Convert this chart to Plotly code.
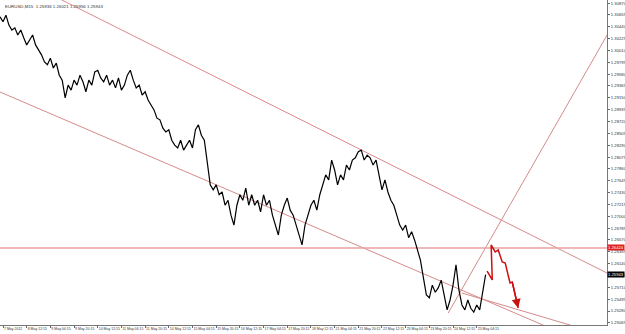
import plotly.graph_objects as go

# ---- data (EURUSD, M15, sampled every 8 bars) ----
start_bar = -8
bar_step = 8
close = [
    1.3062,1.3053,1.3065,1.3047,1.3038,1.3042,1.3029,1.3038,1.3024,1.3011,
    1.3020,1.3029,1.3011,1.3002,1.2993,1.2980,1.2975,1.2987,1.2969,1.2978,
    1.2956,1.2947,1.2915,1.2938,1.2929,1.2947,1.2938,1.2956,1.2944,1.2926,
    1.2947,1.2938,1.2962,1.2965,1.2951,1.2944,1.2956,1.2938,1.2947,1.2933,
    1.2951,1.2929,1.2938,1.2956,1.2965,1.2947,1.2933,1.2938,1.2920,1.2926,
    1.2911,1.2902,1.2893,1.2878,1.2875,1.2860,1.2853,1.2857,1.2838,1.2829,
    1.2824,1.2838,1.2820,1.2829,1.2838,1.2824,1.2857,1.2866,1.2847,1.2838,
    1.2802,1.2757,1.2748,1.2757,1.2739,1.2744,1.2720,1.2729,1.2702,1.2684,
    1.2720,1.2739,1.2729,1.2751,1.2720,1.2739,1.2720,1.2729,1.2708,1.2739,
    1.2720,1.2729,1.2702,1.2684,1.2666,1.2702,1.2720,1.2733,1.2711,1.2702,
    1.2684,1.2666,1.2648,1.2684,1.2702,1.2720,1.2729,1.2711,1.2739,1.2757,
    1.2775,1.2766,1.2802,1.2784,1.2757,1.2775,1.2766,1.2793,1.2784,1.2802,
    1.2806,1.2817,1.2820,1.2802,1.2811,1.2806,1.2793,1.2802,1.2775,1.2748,
    1.2766,1.2744,1.2729,1.2720,1.2702,1.2684,1.2675,1.2684,1.2661,1.2672,
    1.2657,1.2639,1.2620,1.2588,1.2557,1.2552,1.2575,1.2562,1.2570,1.2584,
    1.2557,1.2530,1.2548,1.2575,1.2612,1.2566,1.2539,1.2530,1.2548,1.2533,
    1.2526,1.2539,1.2530,1.2566,1.2594,
]

x_tick_bars = [0, 64, 128, 192, 256, 320, 384, 448, 512, 576, 640, 704,
               768, 832, 896, 960, 1024, 1088, 1152, 1216, 1280]
x_tick_labels = ["7 May 2012", "8 May 12:15", "9 May 04:15", "9 May 20:15",
                 "10 May 12:15", "11 May 04:15", "11 May 20:15", "14 May 12:15",
                 "15 May 04:15", "15 May 20:15", "16 May 12:15", "17 May 04:15",
                 "17 May 20:15", "18 May 12:15", "21 May 04:15", "21 May 20:15",
                 "22 May 12:15", "23 May 04:15", "23 May 20:15", "24 May 12:15",
                 "25 May 04:15"]

y_tick_vals = [round(1.30870 - 0.00215 * k, 5) for k in range(28)]
y_tick_labels = [f"{v:.5f}" for v in y_tick_vals]

# trend lines (bar, price) end points
upper_channel_bars = [0, 1632]
upper_channel_px = [1.3146, 1.2597]
lower_channel_bars = [-8, 1465]
lower_channel_px = [1.29255, 1.25008]
lower_short_bars = [1240, 1640]
lower_short_px = [1.25607, 1.24810]
steep_bars = [1203, 1640]
steep_px = [1.25244, 1.30380]
level_price = 1.26424
last_price = 1.25943

arrow_bars = [1308, 1322, 1319, 1330, 1338, 1349, 1357, 1370, 1376, 1392]
arrow_px = [1.26006, 1.25843, 1.26478, 1.26351, 1.26388, 1.26170, 1.26152,
            1.25789, 1.25807, 1.25335]

x_range = [-8.1, 1632]
y_range = [1.25026, 1.30925]

bars = [start_bar + bar_step * i for i in range(len(close))]

FONT = "Liberation Sans, Arial, sans-serif"

fig = go.Figure()
line_col = "#d58a8a"
for xs, ys in [(upper_channel_bars, upper_channel_px),
               (lower_channel_bars, lower_channel_px),
               (lower_short_bars, lower_short_px),
               (steep_bars, steep_px)]:
    fig.add_trace(go.Scatter(x=xs, y=ys, mode="lines",
                             line=dict(color=line_col, width=1), hoverinfo="skip"))
fig.add_trace(go.Scatter(x=[x_range[0], x_range[1]], y=[level_price, level_price],
                         mode="lines", line=dict(color="#e8a0a0", width=1.5),
                         hoverinfo="skip"))
fig.add_trace(go.Scatter(x=bars, y=close, mode="lines",
                         line=dict(color="black", width=1.2)))
fig.add_trace(go.Scatter(x=arrow_bars, y=arrow_px, mode="lines",
                         line=dict(color="#cc1010", width=1.5)))
fig.add_annotation(x=arrow_bars[-1], y=arrow_px[-1], ax=arrow_bars[-2], ay=arrow_px[-2],
                   xref="x", yref="y", axref="x", ayref="y", text="",
                   showarrow=True, arrowhead=2, arrowsize=1.2, arrowwidth=1.5,
                   arrowcolor="#cc1010")

# price labels on the right axis
for price, bg in [(level_price, "#e02020"), (last_price, "black")]:
    fig.add_annotation(x=1.0, xref="paper", y=price, yref="y", text=f"{price:.5f}",
                       showarrow=False, xanchor="left", xshift=0, bgcolor=bg,
                       font=dict(color="white", size=4.2, family=FONT),
                       borderpad=0)

fig.add_annotation(x=0, xref="paper", y=1, yref="paper", xanchor="left", yanchor="top",
                   xshift=3, yshift=-2, showarrow=False,
                   text="EURUSD,M15  1.25936 1.26021 1.25956 1.25943",
                   font=dict(size=4.4, color="#333333", family=FONT))

fig.update_layout(
    width=625, height=334, margin=dict(l=0, r=18, t=0, b=9, autoexpand=False),
    paper_bgcolor="white", plot_bgcolor="white", showlegend=False,
    font=dict(family=FONT, size=4.2, color="#333333"),
)
fig.update_xaxes(range=x_range, tickvals=x_tick_bars, ticktext=x_tick_labels,
                 ticks="outside", ticklen=2, tickcolor="#666666", tickangle=0,
                 automargin=False,
                 ticklabelposition="outside right", showgrid=False, zeroline=False,
                 showline=True, linecolor="#777777", linewidth=1, mirror=True,
                 tickfont=dict(size=3.5, family=FONT))
fig.update_yaxes(range=y_range, side="right", tickvals=y_tick_vals, ticktext=y_tick_labels,
                 ticks="outside", ticklen=2, tickcolor="#666666", automargin=False,
                 showgrid=False, zeroline=False, showline=True, linecolor="#777777",
                 linewidth=1, mirror=True, tickfont=dict(size=4.2, family=FONT))

fig.write_html("out.html")
